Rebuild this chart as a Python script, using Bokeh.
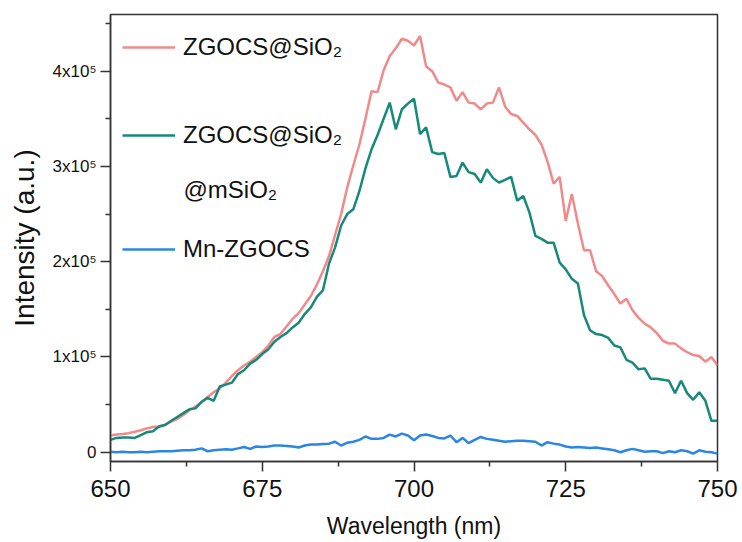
from bokeh.plotting import figure
from bokeh.models import Range1d, FixedTicker, Legend, LegendItem, Label
from bokeh.embed import file_html
from bokeh.resources import INLINE

# ---------------- data ----------------
wavelength = list(range(650, 751))

zgocs_sio2 = [  # x1e4
    1.75, 1.85, 1.9, 2.0, 2.15, 2.3, 2.5, 2.65, 2.7, 2.9,
    3.2, 3.5, 3.9, 4.4, 4.8, 5.2, 5.8, 6.3, 6.7, 7.3,
    8.0, 8.6, 9.1, 9.5, 10.0, 10.5, 11.2, 12.1, 12.4, 13.2,
    14.0, 14.6, 15.5, 16.4, 17.6, 19.0, 20.6, 22.8, 25.0, 27.8,
    30.1, 32.3, 35.0, 37.9, 37.8, 40.1, 41.6, 42.4, 43.4, 43.2,
    42.7, 43.7, 40.5, 40.0, 38.8, 38.6, 38.3, 36.9, 37.8, 36.7,
    36.6, 36.0, 36.6, 36.7, 38.3, 36.3, 35.5, 35.3, 34.6, 33.9,
    33.3, 32.3, 30.5, 28.2, 28.9, 24.3, 27.1, 24.0, 21.2, 21.2,
    19.0, 18.5, 17.5, 16.6, 15.6, 16.1, 14.9, 14.1, 13.5, 13.1,
    12.5, 11.7, 11.4, 11.4, 10.9, 10.5, 10.2, 10.1, 9.5, 10.0,
    9.1,
]

zgocs_sio2_msio2 = [  # x1e4
    1.3, 1.5, 1.55, 1.55, 1.5, 1.8, 2.1, 2.2, 2.7, 2.85,
    3.3, 3.7, 4.1, 4.5, 4.6, 5.3, 5.7, 5.4, 6.9, 7.1,
    7.3, 8.2, 8.6, 9.3, 9.7, 10.3, 10.8, 11.6, 12.1, 12.5,
    13.1, 13.6, 14.5, 15.2, 16.3, 17.0, 19.8, 21.5, 23.8, 25.0,
    25.5, 27.4, 29.8, 31.8, 33.3, 35.0, 36.7, 33.9, 36.0, 36.6,
    37.1, 33.4, 34.1, 31.5, 31.3, 31.4, 28.9, 29.0, 30.4, 29.4,
    29.2, 28.3, 29.7, 28.8, 28.3, 28.6, 28.9, 26.4, 26.9, 25.2,
    22.7, 22.4, 22.0, 22.0, 19.9, 19.2, 18.2, 17.7, 14.4, 12.8,
    12.4, 12.3, 12.0, 11.2, 11.0, 9.7, 9.4, 8.7, 8.8, 7.7,
    7.7, 7.6, 7.5, 6.2, 7.5, 6.2, 5.5, 6.3, 5.4, 3.3,
    3.3,
]

mn_zgocs = [  # x1e4
    0.05, 0.0, 0.05, 0.0, 0.0, 0.05, 0.0, 0.05, 0.1, 0.1,
    0.1, 0.15, 0.2, 0.2, 0.25, 0.4, 0.1, 0.2, 0.25, 0.3,
    0.25, 0.4, 0.55, 0.35, 0.6, 0.55, 0.6, 0.7, 0.7, 0.65,
    0.6, 0.5, 0.7, 0.8, 0.8, 0.85, 0.9, 1.1, 0.7, 1.0,
    1.1, 1.3, 1.65, 1.4, 1.4, 1.5, 1.85, 1.65, 1.95, 1.75,
    1.25, 1.75, 1.85, 1.7, 1.5, 1.45, 1.75, 1.05, 1.5, 0.95,
    1.3, 1.6, 1.4, 1.3, 1.2, 1.1, 1.15, 1.2, 1.2, 1.15,
    1.1, 0.7, 1.05, 0.9, 0.8, 0.6, 0.5, 0.55, 0.5, 0.45,
    0.5, 0.4, 0.3, 0.2, 0.0, 0.2, 0.35, 0.2, 0.05, 0.1,
    0.1, -0.1, 0.1, 0.0, 0.2, 0.1, -0.15, 0.2, 0.05, 0.0,
    -0.15,
]

series_names = ["ZGOCS@SiO\u2082", "ZGOCS@SiO\u2082", "Mn-ZGOCS"]
second_line = "@mSiO\u2082"
x_title = "Wavelength (nm)"
y_title = "Intensity (a.u.)"

x_ticks = [650, 675, 700, 725, 750]
x_minor = [662.5, 687.5, 712.5, 737.5]
y_ticks = [0, 100000, 200000, 300000, 400000]
y_tick_labels = ["0", "1x10\u2075", "2x10\u2075", "3x10\u2075", "4x10\u2075"]
y_minor = [50000, 150000, 250000, 350000, 450000]

colors = ["#F08A8A", "#17897A", "#2A86E0"]
FONT = "Liberation Sans"
TEXT = "#111111"

scale = 1e4
y1 = [v * scale for v in zgocs_sio2]
y2 = [v * scale for v in zgocs_sio2_msio2]
y3 = [v * scale for v in mn_zgocs]

# ---------------- figure ----------------
p = figure(width=742, height=542, output_backend="svg", toolbar_location=None,
           x_range=Range1d(650, 750), y_range=Range1d(-9760, 459500),
           min_border_left=110, min_border_right=25, min_border_top=14,
           min_border_bottom=81)
p.background_fill_color = "white"
p.border_fill_color = "white"
p.grid.visible = False
p.outline_line_color = "#333333"
p.outline_line_width = 1.5

r1 = p.line(wavelength, y1, line_color=colors[0], line_width=2.5)
r2 = p.line(wavelength, y2, line_color=colors[1], line_width=2.5)
r3 = p.line(wavelength, y3, line_color=colors[2], line_width=2.5)

for ax in (p.xaxis[0], p.yaxis[0]):
    ax.axis_line_color = "#333333"
    ax.axis_line_width = 1.5
    ax.major_tick_line_color = "#333333"
    ax.minor_tick_line_color = "#333333"
    ax.major_tick_line_width = 1.5
    ax.minor_tick_line_width = 1.5
    ax.major_tick_in = 0
    ax.major_tick_out = 10
    ax.minor_tick_in = 0
    ax.minor_tick_out = 5
    ax.major_label_text_font = FONT
    ax.major_label_text_color = TEXT
    ax.axis_label_text_font = FONT
    ax.axis_label_text_font_style = "normal"
    ax.axis_label_text_color = TEXT

p.xaxis.ticker = FixedTicker(ticks=x_ticks, minor_ticks=x_minor)
p.yaxis.ticker = FixedTicker(ticks=y_ticks, minor_ticks=y_minor)
p.yaxis.major_label_overrides = dict(zip(y_ticks, y_tick_labels))

p.xaxis.major_label_text_font_size = "24px"
p.xaxis.major_label_standoff = 8
p.xaxis.axis_label = x_title
p.xaxis.axis_label_text_font_size = "23px"
p.xaxis.axis_label_standoff = 13

p.yaxis.major_label_text_font_size = "17px"
p.yaxis.major_label_standoff = 4
p.yaxis.axis_label = y_title
p.yaxis.axis_label_text_font_size = "28px"
p.yaxis.axis_label_standoff = 10

# ---------------- legend ----------------
renderers = [r1, r2, r3]
leg_y = [400, 312, 198]
for name, r, ly in zip(series_names, renderers, leg_y):
    leg = Legend(items=[LegendItem(label=name, renderers=[r])],
                 location=(12, ly), padding=0, margin=0, spacing=0,
                 glyph_width=53, glyph_height=28, label_height=28,
                 label_standoff=8, border_line_color=None,
                 background_fill_alpha=0,
                 label_text_font=FONT, label_text_font_size="24px",
                 label_text_color=TEXT)
    p.add_layout(leg)

p.add_layout(Label(x=73, y=272, x_units="screen", y_units="screen",
                   text=second_line, text_font=FONT, text_font_size="24px",
                   text_color=TEXT, text_baseline="alphabetic"))

open("out.html", "w").write(file_html(p, INLINE))
